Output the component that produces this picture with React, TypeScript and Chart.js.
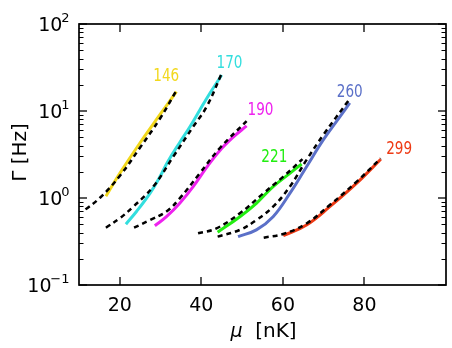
import React, { useEffect, useRef } from "react";
import { Chart, registerables } from "chart.js";

Chart.register(...registerables);

// ---- data ----
const mu146 = [16.6, 20.0, 24.9, 29.8, 33.9];
const gamma146 = [1.05, 1.92, 4.26, 9.0, 16.7];
const fitMu146 = [11.6, 15.1, 20.0, 24.9, 29.8, 34.1];
const fitGamma146 = [0.74, 1.0, 1.79, 3.76, 8.1, 17.9];

const mu170 = [21.5, 24.1, 27.4, 29.8, 31.9, 34.7, 37.2, 39.6, 42.1, 45.0];
const gamma170 = [0.5, 0.7, 1.13, 1.74, 2.68, 4.35, 6.6, 10.2, 16.0, 25.9];
const fitMu170 = [16.6, 20.0, 23.3, 28.2, 33.1, 38.0, 41.3, 45.0];
const fitGamma170 = [0.456, 0.585, 0.794, 1.35, 2.98, 6.6, 11.2, 27.1];

const mu190 = [28.6, 31.45, 34.7, 38.0, 41.3, 44.5, 47.8, 51.1];
const gamma190 = [0.48, 0.61, 0.87, 1.35, 2.25, 3.5, 5.0, 6.73];
const fitMu190 = [23.5, 27.4, 31.45, 34.7, 39.6, 44.5, 51.1];
const fitGamma190 = [0.456, 0.558, 0.7, 0.99, 1.92, 3.73, 7.67];

const mu221 = [44.0, 49.45, 53.5, 57.6, 61.7, 64.6];
const gamma221 = [0.404, 0.61, 0.87, 1.35, 1.92, 2.46];
const fitMu221 = [39.2, 43.7, 49.45, 55.2, 60.1, 64.8];
const fitGamma221 = [0.393, 0.448, 0.667, 1.13, 1.76, 2.8];

const mu260 = [49.0, 53.5, 57.6, 61.7, 65.8, 69.9, 74.0, 76.4];
const gamma260 = [0.36, 0.43, 0.61, 1.13, 2.29, 4.65, 8.6, 12.4];
const fitMu260 = [44.0, 49.45, 53.5, 57.6, 61.7, 65.8, 69.9, 76.3];
const fitGamma260 = [0.36, 0.43, 0.558, 0.794, 1.35, 2.74, 5.3, 13.6];

const mu299 = [60.1, 65.8, 71.5, 78.1, 84.0];
const gamma299 = [0.369, 0.49, 0.794, 1.48, 2.79];
const fitMu299 = [55.3, 60.1, 65.8, 71.5, 78.1, 84.0];
const fitGamma299 = [0.35, 0.386, 0.51, 0.83, 1.54, 2.86];

const seriesNames = ["146", "170", "190", "221", "260", "299"];
const seriesColors = ["#f2d81c", "#33dede", "#ee22ee", "#22ee11", "#5b70c8", "#ee3a14"];
const labelMu = [31.4, 46.9, 54.5, 57.9, 76.4, 88.5];
const labelGamma = [22.1, 31.0, 9.0, 2.61, 14.4, 3.18];

const xTicks = [20, 40, 60, 80];
const yTicks = [0.1, 1, 10, 100];
const yTickExp = ["\u22121", "0", "1", "2"];
const xTitle = "[nK]";
const yTitle = "\u0393 [Hz]";

const solids = [
  [mu146, gamma146],
  [mu170, gamma170],
  [mu190, gamma190],
  [mu221, gamma221],
  [mu260, gamma260],
  [mu299, gamma299],
];
const fits = [
  [fitMu146, fitGamma146],
  [fitMu170, fitGamma170],
  [fitMu190, fitGamma190],
  [fitMu221, fitGamma221],
  [fitMu260, fitGamma260],
  [fitMu299, fitGamma299],
];

const toPts = (xs: number[], ys: number[]) => xs.map((v, i) => ({ x: v, y: ys[i] }));

const FONT = "'DejaVu Sans', 'Liberation Sans', sans-serif";

const mplPlugin = {
  id: "mplAxes",
  afterDatasetsDraw(chart: any) {
    const { ctx, chartArea: a } = chart;
    const xs = chart.scales.x;
    const ys = chart.scales.y;
    ctx.save();

    // curve labels
    ctx.font = `17px ${FONT}`;
    ctx.textAlign = "center";
    ctx.textBaseline = "alphabetic";
    seriesNames.forEach((t, i) => {
      const px = xs.getPixelForValue(labelMu[i]);
      const py = ys.getPixelForValue(labelGamma[i]);
      ctx.save();
      ctx.translate(px, py);
      ctx.scale(0.8, 1);
      ctx.fillStyle = seriesColors[i];
      ctx.fillText(t, 0, 0);
      ctx.restore();
    });

    // ticks (inward, all sides)
    ctx.strokeStyle = "#000";
    const seg = (x1: number, y1: number, x2: number, y2: number) => {
      ctx.beginPath();
      ctx.moveTo(x1, y1);
      ctx.lineTo(x2, y2);
      ctx.stroke();
    };
    ctx.lineWidth = 1.3;
    xTicks.forEach((v) => {
      const px = Math.round(xs.getPixelForValue(v));
      seg(px, a.bottom, px, a.bottom - 8);
      seg(px, a.top, px, a.top + 8);
    });
    yTicks.forEach((v) => {
      const py = Math.round(ys.getPixelForValue(v));
      seg(a.left, py, a.left + 8, py);
      seg(a.right, py, a.right - 8, py);
    });
    ctx.lineWidth = 1;
    [0.1, 1, 10].forEach((d) => {
      for (let k = 2; k <= 9; k++) {
        const py = Math.round(ys.getPixelForValue(k * d)) + 0.5;
        seg(a.left, py, a.left + 4.5, py);
        seg(a.right, py, a.right - 4.5, py);
      }
    });

    // frame
    ctx.lineWidth = 1.7;
    ctx.strokeRect(a.left, a.top, a.right - a.left, a.bottom - a.top);

    // tick labels
    ctx.fillStyle = "#000";
    ctx.font = `19px ${FONT}`;
    ctx.textAlign = "center";
    ctx.textBaseline = "alphabetic";
    xTicks.forEach((v) => {
      const px = xs.getPixelForValue(v);
      ctx.fillText(String(v), px, a.bottom + 25.5);
    });
    yTicks.forEach((v, i) => {
      const py = ys.getPixelForValue(v);
      ctx.font = `13px ${FONT}`;
      const ew = ctx.measureText(yTickExp[i]).width;
      const ex = 69.5 - ew;
      ctx.textAlign = "left";
      ctx.fillText(yTickExp[i], ex, py - 2);
      ctx.font = `19px ${FONT}`;
      ctx.textAlign = "right";
      ctx.fillText("10", ex + 1.2, py + 7);
    });

    // x title: italic mu + [nK]
    ctx.textAlign = "left";
    ctx.font = `italic 19px ${FONT}`;
    const muW = ctx.measureText("\u03bc").width;
    ctx.font = `20px ${FONT}`;
    const restW = ctx.measureText("  " + xTitle).width;
    const cx = (a.left + a.right) / 2 + 1;
    const sx = cx - (muW + restW) / 2;
    ctx.font = `italic 19px ${FONT}`;
    ctx.fillText("\u03bc", sx, a.bottom + 51.5);
    ctx.font = `20px ${FONT}`;
    ctx.fillText("  " + xTitle, sx + muW, a.bottom + 51.5);

    // y title
    ctx.save();
    ctx.translate(26, (a.top + a.bottom) / 2 - 2);
    ctx.rotate(-Math.PI / 2);
    ctx.textAlign = "center";
    ctx.font = `20px ${FONT}`;
    ctx.fillText(yTitle, 0, 0);
    ctx.restore();

    ctx.restore();
  },
};

export default function App() {
  const ref = useRef<HTMLCanvasElement | null>(null);
  useEffect(() => {
    if (!ref.current) return;
    const datasets: any[] = [];
    fits.forEach(([xv, yv], i) => {
      datasets.push({
        label: "fit " + seriesNames[i],
        data: toPts(xv, yv),
        borderColor: "#000",
        borderWidth: 2.5,
        borderDash: [5, 4],
        pointRadius: 0,
        fill: false,
        tension: 0.4,
        order: 0,
      });
    });
    solids.forEach(([xv, yv], i) => {
      datasets.push({
        label: seriesNames[i],
        data: toPts(xv, yv),
        borderColor: seriesColors[i],
        borderWidth: 3,
        pointRadius: 0,
        fill: false,
        tension: 0.4,
        order: 1,
      });
    });
    const chart = new Chart(ref.current, {
      type: "line",
      data: { datasets },
      options: {
        animation: false,
        responsive: false,
        layout: { padding: { left: 79, right: 6, top: 24, bottom: 63 } },
        plugins: { legend: { display: false }, tooltip: { enabled: false } },
        scales: {
          x: { type: "linear", min: 10, max: 100, display: false },
          y: { type: "logarithmic", min: 0.1, max: 100, display: false },
        },
      },
      plugins: [mplPlugin],
    });
    return () => chart.destroy();
  }, []);
  return (
    <div style={{ position: "fixed", left: 0, top: 0, width: 452, height: 348, background: "#fff" }}>
      <canvas ref={ref} width={452} height={348} style={{ display: "block", width: 452, height: 348 }} />
    </div>
  );
}
